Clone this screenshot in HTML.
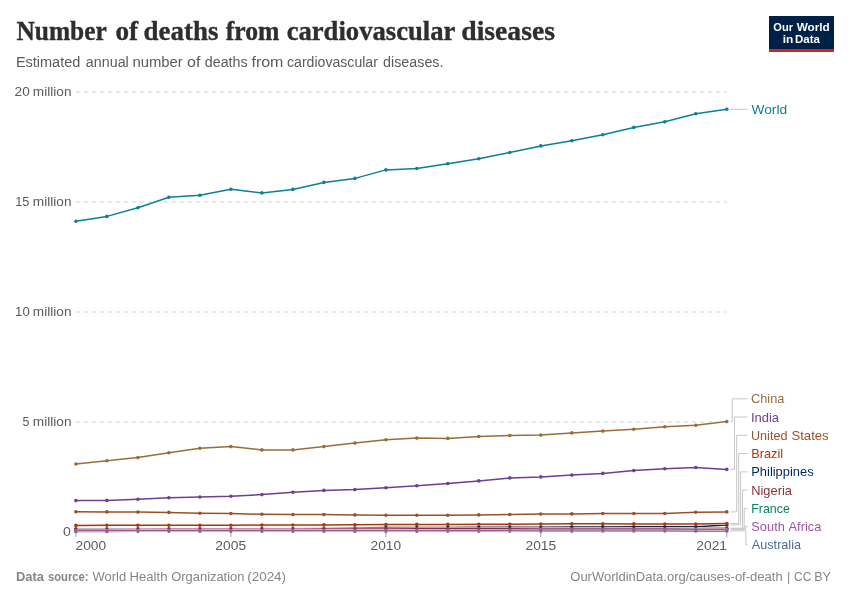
<!DOCTYPE html>
<html lang="en">
<head>
<meta charset="utf-8">
<title>Number of deaths from cardiovascular diseases</title>
<style>
html,body{margin:0;padding:0;background:#fff;}
body{width:850px;height:600px;overflow:hidden;}
svg{display:block;}
text{font-family:"Liberation Sans",sans-serif;}
.title{font-family:"Liberation Serif",serif;font-weight:700;font-size:27px;fill:#2e2e2e;stroke:#2e2e2e;stroke-width:0.35;}
.sub{font-size:14px;fill:#5b5b5b;}
.tick{font-size:13px;fill:#5b5b5b;}
.foot{font-size:13px;fill:#858585;}
.lab{font-size:13px;}
.logo{font-size:11.6px;font-weight:700;fill:#ffffff;}
.grid{stroke:#e0e0e0;stroke-width:1.4;stroke-dasharray:4 4;fill:none;}
.conn{stroke:#c6c6c6;stroke-width:1;fill:none;}
</style>
</head>
<body>
<svg width="850" height="600" viewBox="0 0 850 600">
<rect x="0" y="0" width="850" height="600" fill="#ffffff"/>
<text class="title" y="39.6"><tspan x="16.39" textLength="90.02" lengthAdjust="spacingAndGlyphs">Number</tspan> <tspan x="115.48" textLength="22.66" lengthAdjust="spacingAndGlyphs">of</tspan> <tspan x="143.62" textLength="74.81" lengthAdjust="spacingAndGlyphs">deaths</tspan> <tspan x="225.71" textLength="53.62" lengthAdjust="spacingAndGlyphs">from</tspan> <tspan x="286.67" textLength="168.17" lengthAdjust="spacingAndGlyphs">cardiovascular</tspan> <tspan x="461.29" textLength="93.68" lengthAdjust="spacingAndGlyphs">diseases</tspan></text>
<text class="sub" y="66.5"><tspan x="15.90" textLength="64.42" lengthAdjust="spacingAndGlyphs">Estimated</tspan> <tspan x="85.89" textLength="42.88" lengthAdjust="spacingAndGlyphs">annual</tspan> <tspan x="132.40" textLength="50.34" lengthAdjust="spacingAndGlyphs">number</tspan> <tspan x="187.12" textLength="13.37" lengthAdjust="spacingAndGlyphs">of</tspan> <tspan x="204.79" textLength="42.81" lengthAdjust="spacingAndGlyphs">deaths</tspan> <tspan x="251.46" textLength="31.98" lengthAdjust="spacingAndGlyphs">from</tspan> <tspan x="287.00" textLength="90.91" lengthAdjust="spacingAndGlyphs">cardiovascular</tspan> <tspan x="383.09" textLength="60.39" lengthAdjust="spacingAndGlyphs">diseases.</tspan></text>
<rect x="769" y="16" width="65" height="35.8" fill="#002147"/>
<rect x="769" y="49" width="65" height="2.8" fill="#ce261e"/>
<text class="logo" y="30.7"><tspan x="773.36" textLength="19.61" lengthAdjust="spacingAndGlyphs">Our</tspan> <tspan x="796.77" textLength="33.02" lengthAdjust="spacingAndGlyphs">World</tspan></text>
<text class="logo" y="42.8"><tspan x="782.67" textLength="10.56" lengthAdjust="spacingAndGlyphs">in</tspan> <tspan x="795.02" textLength="24.89" lengthAdjust="spacingAndGlyphs">Data</tspan></text>
<line class="grid" x1="75.9" x2="726.7" y1="92.0" y2="92.0"/>
<text class="tick" y="96.1"><tspan x="14.62" textLength="15.12" lengthAdjust="spacingAndGlyphs">20</tspan> <tspan x="32.88" textLength="38.63" lengthAdjust="spacingAndGlyphs">million</tspan></text>
<line class="grid" x1="75.9" x2="726.7" y1="202.0" y2="202.0"/>
<text class="tick" y="206.1"><tspan x="15.14" textLength="14.20" lengthAdjust="spacingAndGlyphs">15</tspan> <tspan x="32.88" textLength="38.63" lengthAdjust="spacingAndGlyphs">million</tspan></text>
<line class="grid" x1="75.9" x2="726.7" y1="312.0" y2="312.0"/>
<text class="tick" y="316.1"><tspan x="15.12" textLength="14.61" lengthAdjust="spacingAndGlyphs">10</tspan> <tspan x="32.88" textLength="38.63" lengthAdjust="spacingAndGlyphs">million</tspan></text>
<line class="grid" x1="75.9" x2="726.7" y1="422.0" y2="422.0"/>
<text class="tick" y="426.1"><tspan x="22.40" textLength="6.91" lengthAdjust="spacingAndGlyphs">5</tspan> <tspan x="32.88" textLength="38.63" lengthAdjust="spacingAndGlyphs">million</tspan></text>
<text class="tick" y="536.3"><tspan x="62.94" textLength="7.80" lengthAdjust="spacingAndGlyphs">0</tspan></text>
<line x1="75.9" x2="75.9" y1="532" y2="537" stroke="#a0a0a0" stroke-width="1"/>
<text class="tick" y="550.3"><tspan x="75.51" textLength="30.64" lengthAdjust="spacingAndGlyphs">2000</tspan></text>
<line x1="230.9" x2="230.9" y1="532" y2="537" stroke="#a0a0a0" stroke-width="1"/>
<text class="tick" y="550.3"><tspan x="215.31" textLength="30.78" lengthAdjust="spacingAndGlyphs">2005</tspan></text>
<line x1="385.9" x2="385.9" y1="532" y2="537" stroke="#a0a0a0" stroke-width="1"/>
<text class="tick" y="550.3"><tspan x="370.61" textLength="30.53" lengthAdjust="spacingAndGlyphs">2010</tspan></text>
<line x1="540.8" x2="540.8" y1="532" y2="537" stroke="#a0a0a0" stroke-width="1"/>
<text class="tick" y="550.3"><tspan x="525.51" textLength="30.67" lengthAdjust="spacingAndGlyphs">2015</tspan></text>
<line x1="726.8" x2="726.8" y1="532" y2="537" stroke="#a0a0a0" stroke-width="1"/>
<text class="tick" y="550.3"><tspan x="696.31" textLength="30.67" lengthAdjust="spacingAndGlyphs">2021</tspan></text>
<path class="conn" d="M730.6 109.3H747.5"/>
<path class="conn" d="M730.6 421.6H732.2V398.8H747.5"/>
<path class="conn" d="M730.6 469.4H734.5V417.0H747.5"/>
<path class="conn" d="M730.6 511.9H736.7V435.3H747.5"/>
<path class="conn" d="M730.6 523.5H738.7V453.5H747.5"/>
<path class="conn" d="M730.6 524.9H740.6V471.8H747.5"/>
<path class="conn" d="M730.6 528.2H742.5V490.0H747.5"/>
<path class="conn" d="M730.6 528.8H744.2V508.3H747.5"/>
<path class="conn" d="M730.6 529.7H745.6V526.5H747.5"/>
<path class="conn" d="M730.6 530.9H745.9V544.8H747.5"/>
<g fill="#00295B" stroke="none"><path d="M75.9 529.5 L106.9 529.5 L137.9 529.4 L168.9 529.3 L199.9 529.2 L230.9 529.1 L261.9 528.9 L292.9 528.7 L323.9 528.4 L354.9 528.0 L385.9 527.6 L416.8 527.5 L447.8 527.4 L478.8 527.3 L509.8 527.3 L540.8 527.2 L571.8 527.0 L602.8 526.9 L633.8 526.8 L664.8 526.8 L695.8 526.8 L726.8 524.9" fill="none" stroke="#ffffff" stroke-width="2.5" stroke-linejoin="round" stroke-linecap="round"/><path d="M75.9 529.5 L106.9 529.5 L137.9 529.4 L168.9 529.3 L199.9 529.2 L230.9 529.1 L261.9 528.9 L292.9 528.7 L323.9 528.4 L354.9 528.0 L385.9 527.6 L416.8 527.5 L447.8 527.4 L478.8 527.3 L509.8 527.3 L540.8 527.2 L571.8 527.0 L602.8 526.9 L633.8 526.8 L664.8 526.8 L695.8 526.8 L726.8 524.9" fill="none" stroke="#00295B" stroke-width="1.5" stroke-linejoin="round" stroke-linecap="round"/><circle cx="75.9" cy="529.5" r="1.8"/><circle cx="106.9" cy="529.5" r="1.8"/><circle cx="137.9" cy="529.4" r="1.8"/><circle cx="168.9" cy="529.3" r="1.8"/><circle cx="199.9" cy="529.2" r="1.8"/><circle cx="230.9" cy="529.1" r="1.8"/><circle cx="261.9" cy="528.9" r="1.8"/><circle cx="292.9" cy="528.7" r="1.8"/><circle cx="323.9" cy="528.4" r="1.8"/><circle cx="354.9" cy="528.0" r="1.8"/><circle cx="385.9" cy="527.6" r="1.8"/><circle cx="416.8" cy="527.5" r="1.8"/><circle cx="447.8" cy="527.4" r="1.8"/><circle cx="478.8" cy="527.3" r="1.8"/><circle cx="509.8" cy="527.3" r="1.8"/><circle cx="540.8" cy="527.2" r="1.8"/><circle cx="571.8" cy="527.0" r="1.8"/><circle cx="602.8" cy="526.9" r="1.8"/><circle cx="633.8" cy="526.8" r="1.8"/><circle cx="664.8" cy="526.8" r="1.8"/><circle cx="695.8" cy="526.8" r="1.8"/><circle cx="726.8" cy="524.9" r="1.8"/></g>
<g fill="#00875E" stroke="none"><path d="M75.9 528.9 L106.9 528.9 L137.9 528.9 L168.9 528.8 L199.9 528.9 L230.9 528.9 L261.9 528.9 L292.9 528.9 L323.9 528.9 L354.9 528.9 L385.9 528.9 L416.8 528.9 L447.8 528.9 L478.8 528.9 L509.8 528.9 L540.8 528.9 L571.8 528.9 L602.8 528.9 L633.8 528.9 L664.8 528.9 L695.8 528.8 L726.8 528.8" fill="none" stroke="#ffffff" stroke-width="2.5" stroke-linejoin="round" stroke-linecap="round"/><path d="M75.9 528.9 L106.9 528.9 L137.9 528.9 L168.9 528.8 L199.9 528.9 L230.9 528.9 L261.9 528.9 L292.9 528.9 L323.9 528.9 L354.9 528.9 L385.9 528.9 L416.8 528.9 L447.8 528.9 L478.8 528.9 L509.8 528.9 L540.8 528.9 L571.8 528.9 L602.8 528.9 L633.8 528.9 L664.8 528.9 L695.8 528.8 L726.8 528.8" fill="none" stroke="#00875E" stroke-width="1.5" stroke-linejoin="round" stroke-linecap="round"/><circle cx="75.9" cy="528.9" r="1.8"/><circle cx="106.9" cy="528.9" r="1.8"/><circle cx="137.9" cy="528.9" r="1.8"/><circle cx="168.9" cy="528.8" r="1.8"/><circle cx="199.9" cy="528.9" r="1.8"/><circle cx="230.9" cy="528.9" r="1.8"/><circle cx="261.9" cy="528.9" r="1.8"/><circle cx="292.9" cy="528.9" r="1.8"/><circle cx="323.9" cy="528.9" r="1.8"/><circle cx="354.9" cy="528.9" r="1.8"/><circle cx="385.9" cy="528.9" r="1.8"/><circle cx="416.8" cy="528.9" r="1.8"/><circle cx="447.8" cy="528.9" r="1.8"/><circle cx="478.8" cy="528.9" r="1.8"/><circle cx="509.8" cy="528.9" r="1.8"/><circle cx="540.8" cy="528.9" r="1.8"/><circle cx="571.8" cy="528.9" r="1.8"/><circle cx="602.8" cy="528.9" r="1.8"/><circle cx="633.8" cy="528.9" r="1.8"/><circle cx="664.8" cy="528.9" r="1.8"/><circle cx="695.8" cy="528.8" r="1.8"/><circle cx="726.8" cy="528.8" r="1.8"/></g>
<g fill="#4C6A9C" stroke="none"><path d="M75.9 531.4 L106.9 531.4 L137.9 531.3 L168.9 531.3 L199.9 531.3 L230.9 531.3 L261.9 531.3 L292.9 531.3 L323.9 531.2 L354.9 531.2 L385.9 531.2 L416.8 531.2 L447.8 531.2 L478.8 531.2 L509.8 531.1 L540.8 531.1 L571.8 531.1 L602.8 531.0 L633.8 531.0 L664.8 531.0 L695.8 531.0 L726.8 530.9" fill="none" stroke="#ffffff" stroke-width="2.5" stroke-linejoin="round" stroke-linecap="round"/><path d="M75.9 531.4 L106.9 531.4 L137.9 531.3 L168.9 531.3 L199.9 531.3 L230.9 531.3 L261.9 531.3 L292.9 531.3 L323.9 531.2 L354.9 531.2 L385.9 531.2 L416.8 531.2 L447.8 531.2 L478.8 531.2 L509.8 531.1 L540.8 531.1 L571.8 531.1 L602.8 531.0 L633.8 531.0 L664.8 531.0 L695.8 531.0 L726.8 530.9" fill="none" stroke="#4C6A9C" stroke-width="1.5" stroke-linejoin="round" stroke-linecap="round"/><circle cx="75.9" cy="531.4" r="1.8"/><circle cx="106.9" cy="531.4" r="1.8"/><circle cx="137.9" cy="531.3" r="1.8"/><circle cx="168.9" cy="531.3" r="1.8"/><circle cx="199.9" cy="531.3" r="1.8"/><circle cx="230.9" cy="531.3" r="1.8"/><circle cx="261.9" cy="531.3" r="1.8"/><circle cx="292.9" cy="531.3" r="1.8"/><circle cx="323.9" cy="531.2" r="1.8"/><circle cx="354.9" cy="531.2" r="1.8"/><circle cx="385.9" cy="531.2" r="1.8"/><circle cx="416.8" cy="531.2" r="1.8"/><circle cx="447.8" cy="531.2" r="1.8"/><circle cx="478.8" cy="531.2" r="1.8"/><circle cx="509.8" cy="531.1" r="1.8"/><circle cx="540.8" cy="531.1" r="1.8"/><circle cx="571.8" cy="531.1" r="1.8"/><circle cx="602.8" cy="531.0" r="1.8"/><circle cx="633.8" cy="531.0" r="1.8"/><circle cx="664.8" cy="531.0" r="1.8"/><circle cx="695.8" cy="531.0" r="1.8"/><circle cx="726.8" cy="530.9" r="1.8"/></g>
<g fill="#883039" stroke="none"><path d="M75.9 529.4 L106.9 529.4 L137.9 529.4 L168.9 529.3 L199.9 529.3 L230.9 529.3 L261.9 529.2 L292.9 529.2 L323.9 529.1 L354.9 529.0 L385.9 528.9 L416.8 528.8 L447.8 528.8 L478.8 528.7 L509.8 528.6 L540.8 528.5 L571.8 528.5 L602.8 528.5 L633.8 528.5 L664.8 528.5 L695.8 528.5 L726.8 528.2" fill="none" stroke="#ffffff" stroke-width="2.5" stroke-linejoin="round" stroke-linecap="round"/><path d="M75.9 529.4 L106.9 529.4 L137.9 529.4 L168.9 529.3 L199.9 529.3 L230.9 529.3 L261.9 529.2 L292.9 529.2 L323.9 529.1 L354.9 529.0 L385.9 528.9 L416.8 528.8 L447.8 528.8 L478.8 528.7 L509.8 528.6 L540.8 528.5 L571.8 528.5 L602.8 528.5 L633.8 528.5 L664.8 528.5 L695.8 528.5 L726.8 528.2" fill="none" stroke="#883039" stroke-width="1.5" stroke-linejoin="round" stroke-linecap="round"/><circle cx="75.9" cy="529.4" r="1.8"/><circle cx="106.9" cy="529.4" r="1.8"/><circle cx="137.9" cy="529.4" r="1.8"/><circle cx="168.9" cy="529.3" r="1.8"/><circle cx="199.9" cy="529.3" r="1.8"/><circle cx="230.9" cy="529.3" r="1.8"/><circle cx="261.9" cy="529.2" r="1.8"/><circle cx="292.9" cy="529.2" r="1.8"/><circle cx="323.9" cy="529.1" r="1.8"/><circle cx="354.9" cy="529.0" r="1.8"/><circle cx="385.9" cy="528.9" r="1.8"/><circle cx="416.8" cy="528.8" r="1.8"/><circle cx="447.8" cy="528.8" r="1.8"/><circle cx="478.8" cy="528.7" r="1.8"/><circle cx="509.8" cy="528.6" r="1.8"/><circle cx="540.8" cy="528.5" r="1.8"/><circle cx="571.8" cy="528.5" r="1.8"/><circle cx="602.8" cy="528.5" r="1.8"/><circle cx="633.8" cy="528.5" r="1.8"/><circle cx="664.8" cy="528.5" r="1.8"/><circle cx="695.8" cy="528.5" r="1.8"/><circle cx="726.8" cy="528.2" r="1.8"/></g>
<g fill="#A2559C" stroke="none"><path d="M75.9 530.8 L106.9 530.8 L137.9 530.6 L168.9 530.5 L199.9 530.5 L230.9 530.5 L261.9 530.5 L292.9 530.5 L323.9 530.4 L354.9 530.4 L385.9 530.4 L416.8 530.4 L447.8 530.3 L478.8 530.3 L509.8 530.2 L540.8 530.1 L571.8 530.1 L602.8 530.0 L633.8 530.0 L664.8 529.9 L695.8 529.8 L726.8 529.7" fill="none" stroke="#ffffff" stroke-width="2.5" stroke-linejoin="round" stroke-linecap="round"/><path d="M75.9 530.8 L106.9 530.8 L137.9 530.6 L168.9 530.5 L199.9 530.5 L230.9 530.5 L261.9 530.5 L292.9 530.5 L323.9 530.4 L354.9 530.4 L385.9 530.4 L416.8 530.4 L447.8 530.3 L478.8 530.3 L509.8 530.2 L540.8 530.1 L571.8 530.1 L602.8 530.0 L633.8 530.0 L664.8 529.9 L695.8 529.8 L726.8 529.7" fill="none" stroke="#A2559C" stroke-width="1.5" stroke-linejoin="round" stroke-linecap="round"/><circle cx="75.9" cy="530.8" r="1.8"/><circle cx="106.9" cy="530.8" r="1.8"/><circle cx="137.9" cy="530.6" r="1.8"/><circle cx="168.9" cy="530.5" r="1.8"/><circle cx="199.9" cy="530.5" r="1.8"/><circle cx="230.9" cy="530.5" r="1.8"/><circle cx="261.9" cy="530.5" r="1.8"/><circle cx="292.9" cy="530.5" r="1.8"/><circle cx="323.9" cy="530.4" r="1.8"/><circle cx="354.9" cy="530.4" r="1.8"/><circle cx="385.9" cy="530.4" r="1.8"/><circle cx="416.8" cy="530.4" r="1.8"/><circle cx="447.8" cy="530.3" r="1.8"/><circle cx="478.8" cy="530.3" r="1.8"/><circle cx="509.8" cy="530.2" r="1.8"/><circle cx="540.8" cy="530.1" r="1.8"/><circle cx="571.8" cy="530.1" r="1.8"/><circle cx="602.8" cy="530.0" r="1.8"/><circle cx="633.8" cy="530.0" r="1.8"/><circle cx="664.8" cy="529.9" r="1.8"/><circle cx="695.8" cy="529.8" r="1.8"/><circle cx="726.8" cy="529.7" r="1.8"/></g>
<g fill="#B13507" stroke="none"><path d="M75.9 525.4 L106.9 525.3 L137.9 525.2 L168.9 525.2 L199.9 525.2 L230.9 525.2 L261.9 525.1 L292.9 525.0 L323.9 524.9 L354.9 524.7 L385.9 524.5 L416.8 524.4 L447.8 524.4 L478.8 524.3 L509.8 524.3 L540.8 524.1 L571.8 523.8 L602.8 523.8 L633.8 523.9 L664.8 524.1 L695.8 524.1 L726.8 523.5" fill="none" stroke="#ffffff" stroke-width="2.5" stroke-linejoin="round" stroke-linecap="round"/><path d="M75.9 525.4 L106.9 525.3 L137.9 525.2 L168.9 525.2 L199.9 525.2 L230.9 525.2 L261.9 525.1 L292.9 525.0 L323.9 524.9 L354.9 524.7 L385.9 524.5 L416.8 524.4 L447.8 524.4 L478.8 524.3 L509.8 524.3 L540.8 524.1 L571.8 523.8 L602.8 523.8 L633.8 523.9 L664.8 524.1 L695.8 524.1 L726.8 523.5" fill="none" stroke="#B13507" stroke-width="1.5" stroke-linejoin="round" stroke-linecap="round"/><circle cx="75.9" cy="525.4" r="1.8"/><circle cx="106.9" cy="525.3" r="1.8"/><circle cx="137.9" cy="525.2" r="1.8"/><circle cx="168.9" cy="525.2" r="1.8"/><circle cx="199.9" cy="525.2" r="1.8"/><circle cx="230.9" cy="525.2" r="1.8"/><circle cx="261.9" cy="525.1" r="1.8"/><circle cx="292.9" cy="525.0" r="1.8"/><circle cx="323.9" cy="524.9" r="1.8"/><circle cx="354.9" cy="524.7" r="1.8"/><circle cx="385.9" cy="524.5" r="1.8"/><circle cx="416.8" cy="524.4" r="1.8"/><circle cx="447.8" cy="524.4" r="1.8"/><circle cx="478.8" cy="524.3" r="1.8"/><circle cx="509.8" cy="524.3" r="1.8"/><circle cx="540.8" cy="524.1" r="1.8"/><circle cx="571.8" cy="523.8" r="1.8"/><circle cx="602.8" cy="523.8" r="1.8"/><circle cx="633.8" cy="523.9" r="1.8"/><circle cx="664.8" cy="524.1" r="1.8"/><circle cx="695.8" cy="524.1" r="1.8"/><circle cx="726.8" cy="523.5" r="1.8"/></g>
<g fill="#9A5129" stroke="none"><path d="M75.9 511.7 L106.9 511.9 L137.9 512.1 L168.9 512.4 L199.9 513.2 L230.9 513.5 L261.9 514.3 L292.9 514.6 L323.9 514.6 L354.9 514.9 L385.9 515.2 L416.8 515.2 L447.8 515.2 L478.8 514.9 L509.8 514.5 L540.8 514.0 L571.8 513.9 L602.8 513.5 L633.8 513.5 L664.8 513.5 L695.8 512.3 L726.8 511.9" fill="none" stroke="#ffffff" stroke-width="2.5" stroke-linejoin="round" stroke-linecap="round"/><path d="M75.9 511.7 L106.9 511.9 L137.9 512.1 L168.9 512.4 L199.9 513.2 L230.9 513.5 L261.9 514.3 L292.9 514.6 L323.9 514.6 L354.9 514.9 L385.9 515.2 L416.8 515.2 L447.8 515.2 L478.8 514.9 L509.8 514.5 L540.8 514.0 L571.8 513.9 L602.8 513.5 L633.8 513.5 L664.8 513.5 L695.8 512.3 L726.8 511.9" fill="none" stroke="#9A5129" stroke-width="1.5" stroke-linejoin="round" stroke-linecap="round"/><circle cx="75.9" cy="511.7" r="1.8"/><circle cx="106.9" cy="511.9" r="1.8"/><circle cx="137.9" cy="512.1" r="1.8"/><circle cx="168.9" cy="512.4" r="1.8"/><circle cx="199.9" cy="513.2" r="1.8"/><circle cx="230.9" cy="513.5" r="1.8"/><circle cx="261.9" cy="514.3" r="1.8"/><circle cx="292.9" cy="514.6" r="1.8"/><circle cx="323.9" cy="514.6" r="1.8"/><circle cx="354.9" cy="514.9" r="1.8"/><circle cx="385.9" cy="515.2" r="1.8"/><circle cx="416.8" cy="515.2" r="1.8"/><circle cx="447.8" cy="515.2" r="1.8"/><circle cx="478.8" cy="514.9" r="1.8"/><circle cx="509.8" cy="514.5" r="1.8"/><circle cx="540.8" cy="514.0" r="1.8"/><circle cx="571.8" cy="513.9" r="1.8"/><circle cx="602.8" cy="513.5" r="1.8"/><circle cx="633.8" cy="513.5" r="1.8"/><circle cx="664.8" cy="513.5" r="1.8"/><circle cx="695.8" cy="512.3" r="1.8"/><circle cx="726.8" cy="511.9" r="1.8"/></g>
<g fill="#6D3E91" stroke="none"><path d="M75.9 500.6 L106.9 500.4 L137.9 499.2 L168.9 497.8 L199.9 497.0 L230.9 496.2 L261.9 494.6 L292.9 492.2 L323.9 490.4 L354.9 489.6 L385.9 487.8 L416.8 485.8 L447.8 483.5 L478.8 480.9 L509.8 477.9 L540.8 476.9 L571.8 475.1 L602.8 473.4 L633.8 470.6 L664.8 468.7 L695.8 467.5 L726.8 469.4" fill="none" stroke="#ffffff" stroke-width="2.5" stroke-linejoin="round" stroke-linecap="round"/><path d="M75.9 500.6 L106.9 500.4 L137.9 499.2 L168.9 497.8 L199.9 497.0 L230.9 496.2 L261.9 494.6 L292.9 492.2 L323.9 490.4 L354.9 489.6 L385.9 487.8 L416.8 485.8 L447.8 483.5 L478.8 480.9 L509.8 477.9 L540.8 476.9 L571.8 475.1 L602.8 473.4 L633.8 470.6 L664.8 468.7 L695.8 467.5 L726.8 469.4" fill="none" stroke="#6D3E91" stroke-width="1.5" stroke-linejoin="round" stroke-linecap="round"/><circle cx="75.9" cy="500.6" r="1.8"/><circle cx="106.9" cy="500.4" r="1.8"/><circle cx="137.9" cy="499.2" r="1.8"/><circle cx="168.9" cy="497.8" r="1.8"/><circle cx="199.9" cy="497.0" r="1.8"/><circle cx="230.9" cy="496.2" r="1.8"/><circle cx="261.9" cy="494.6" r="1.8"/><circle cx="292.9" cy="492.2" r="1.8"/><circle cx="323.9" cy="490.4" r="1.8"/><circle cx="354.9" cy="489.6" r="1.8"/><circle cx="385.9" cy="487.8" r="1.8"/><circle cx="416.8" cy="485.8" r="1.8"/><circle cx="447.8" cy="483.5" r="1.8"/><circle cx="478.8" cy="480.9" r="1.8"/><circle cx="509.8" cy="477.9" r="1.8"/><circle cx="540.8" cy="476.9" r="1.8"/><circle cx="571.8" cy="475.1" r="1.8"/><circle cx="602.8" cy="473.4" r="1.8"/><circle cx="633.8" cy="470.6" r="1.8"/><circle cx="664.8" cy="468.7" r="1.8"/><circle cx="695.8" cy="467.5" r="1.8"/><circle cx="726.8" cy="469.4" r="1.8"/></g>
<g fill="#996D39" stroke="none"><path d="M75.9 464.0 L106.9 460.7 L137.9 457.6 L168.9 452.7 L199.9 448.2 L230.9 446.6 L261.9 449.9 L292.9 449.9 L323.9 446.6 L354.9 443.1 L385.9 439.8 L416.8 438.1 L447.8 438.4 L478.8 436.5 L509.8 435.5 L540.8 435.1 L571.8 432.9 L602.8 431.1 L633.8 429.2 L664.8 426.8 L695.8 425.2 L726.8 421.6" fill="none" stroke="#ffffff" stroke-width="2.5" stroke-linejoin="round" stroke-linecap="round"/><path d="M75.9 464.0 L106.9 460.7 L137.9 457.6 L168.9 452.7 L199.9 448.2 L230.9 446.6 L261.9 449.9 L292.9 449.9 L323.9 446.6 L354.9 443.1 L385.9 439.8 L416.8 438.1 L447.8 438.4 L478.8 436.5 L509.8 435.5 L540.8 435.1 L571.8 432.9 L602.8 431.1 L633.8 429.2 L664.8 426.8 L695.8 425.2 L726.8 421.6" fill="none" stroke="#996D39" stroke-width="1.5" stroke-linejoin="round" stroke-linecap="round"/><circle cx="75.9" cy="464.0" r="1.8"/><circle cx="106.9" cy="460.7" r="1.8"/><circle cx="137.9" cy="457.6" r="1.8"/><circle cx="168.9" cy="452.7" r="1.8"/><circle cx="199.9" cy="448.2" r="1.8"/><circle cx="230.9" cy="446.6" r="1.8"/><circle cx="261.9" cy="449.9" r="1.8"/><circle cx="292.9" cy="449.9" r="1.8"/><circle cx="323.9" cy="446.6" r="1.8"/><circle cx="354.9" cy="443.1" r="1.8"/><circle cx="385.9" cy="439.8" r="1.8"/><circle cx="416.8" cy="438.1" r="1.8"/><circle cx="447.8" cy="438.4" r="1.8"/><circle cx="478.8" cy="436.5" r="1.8"/><circle cx="509.8" cy="435.5" r="1.8"/><circle cx="540.8" cy="435.1" r="1.8"/><circle cx="571.8" cy="432.9" r="1.8"/><circle cx="602.8" cy="431.1" r="1.8"/><circle cx="633.8" cy="429.2" r="1.8"/><circle cx="664.8" cy="426.8" r="1.8"/><circle cx="695.8" cy="425.2" r="1.8"/><circle cx="726.8" cy="421.6" r="1.8"/></g>
<g fill="#0A8094" stroke="none"><path d="M75.9 221.3 L106.9 216.4 L137.9 207.7 L168.9 197.3 L199.9 195.2 L230.9 189.3 L261.9 192.9 L292.9 189.4 L323.9 182.4 L354.9 178.4 L385.9 169.9 L416.8 168.5 L447.8 163.8 L478.8 158.8 L509.8 152.5 L540.8 145.9 L571.8 140.8 L602.8 134.7 L633.8 127.4 L664.8 121.8 L695.8 113.8 L726.8 109.3" fill="none" stroke="#ffffff" stroke-width="2.5" stroke-linejoin="round" stroke-linecap="round"/><path d="M75.9 221.3 L106.9 216.4 L137.9 207.7 L168.9 197.3 L199.9 195.2 L230.9 189.3 L261.9 192.9 L292.9 189.4 L323.9 182.4 L354.9 178.4 L385.9 169.9 L416.8 168.5 L447.8 163.8 L478.8 158.8 L509.8 152.5 L540.8 145.9 L571.8 140.8 L602.8 134.7 L633.8 127.4 L664.8 121.8 L695.8 113.8 L726.8 109.3" fill="none" stroke="#0A8094" stroke-width="1.5" stroke-linejoin="round" stroke-linecap="round"/><circle cx="75.9" cy="221.3" r="1.8"/><circle cx="106.9" cy="216.4" r="1.8"/><circle cx="137.9" cy="207.7" r="1.8"/><circle cx="168.9" cy="197.3" r="1.8"/><circle cx="199.9" cy="195.2" r="1.8"/><circle cx="230.9" cy="189.3" r="1.8"/><circle cx="261.9" cy="192.9" r="1.8"/><circle cx="292.9" cy="189.4" r="1.8"/><circle cx="323.9" cy="182.4" r="1.8"/><circle cx="354.9" cy="178.4" r="1.8"/><circle cx="385.9" cy="169.9" r="1.8"/><circle cx="416.8" cy="168.5" r="1.8"/><circle cx="447.8" cy="163.8" r="1.8"/><circle cx="478.8" cy="158.8" r="1.8"/><circle cx="509.8" cy="152.5" r="1.8"/><circle cx="540.8" cy="145.9" r="1.8"/><circle cx="571.8" cy="140.8" r="1.8"/><circle cx="602.8" cy="134.7" r="1.8"/><circle cx="633.8" cy="127.4" r="1.8"/><circle cx="664.8" cy="121.8" r="1.8"/><circle cx="695.8" cy="113.8" r="1.8"/><circle cx="726.8" cy="109.3" r="1.8"/></g>
<text class="lab" y="113.85" fill="#0A8094"><tspan x="751.53" textLength="35.54" lengthAdjust="spacingAndGlyphs">World</tspan></text>
<text class="lab" y="403.35" fill="#996D39"><tspan x="751.06" textLength="33.24" lengthAdjust="spacingAndGlyphs">China</tspan></text>
<text class="lab" y="421.55" fill="#6D3E91"><tspan x="750.90" textLength="28.11" lengthAdjust="spacingAndGlyphs">India</tspan></text>
<text class="lab" y="439.85" fill="#9A5129"><tspan x="751.02" textLength="36.37" lengthAdjust="spacingAndGlyphs">United</tspan> <tspan x="791.41" textLength="37.25" lengthAdjust="spacingAndGlyphs">States</tspan></text>
<text class="lab" y="458.05" fill="#B13507"><tspan x="751.25" textLength="31.82" lengthAdjust="spacingAndGlyphs">Brazil</tspan></text>
<text class="lab" y="476.35" fill="#00295B"><tspan x="751.24" textLength="62.40" lengthAdjust="spacingAndGlyphs">Philippines</tspan></text>
<text class="lab" y="494.55" fill="#883039"><tspan x="751.24" textLength="40.67" lengthAdjust="spacingAndGlyphs">Nigeria</tspan></text>
<text class="lab" y="512.85" fill="#00875E"><tspan x="751.28" textLength="38.58" lengthAdjust="spacingAndGlyphs">France</tspan></text>
<text class="lab" y="531.05" fill="#A2559C"><tspan x="751.32" textLength="33.52" lengthAdjust="spacingAndGlyphs">South</tspan> <tspan x="788.57" textLength="32.75" lengthAdjust="spacingAndGlyphs">Africa</tspan></text>
<text class="lab" y="549.35" fill="#4C6A9C"><tspan x="751.87" textLength="49.14" lengthAdjust="spacingAndGlyphs">Australia</tspan></text>
<text class="foot" y="581.3"><tspan x="16.03" textLength="27.97" lengthAdjust="spacingAndGlyphs" font-weight="700">Data</tspan> <tspan x="48.01" textLength="40.56" lengthAdjust="spacingAndGlyphs" font-weight="700">source:</tspan> <tspan x="92.44" textLength="33.69" lengthAdjust="spacingAndGlyphs">World</tspan> <tspan x="129.52" textLength="37.95" lengthAdjust="spacingAndGlyphs">Health</tspan> <tspan x="171.29" textLength="73.15" lengthAdjust="spacingAndGlyphs">Organization</tspan> <tspan x="247.26" textLength="38.79" lengthAdjust="spacingAndGlyphs">(2024)</tspan></text>
<text class="foot" y="581.3"><tspan x="570.28" textLength="212.37" lengthAdjust="spacingAndGlyphs">OurWorldinData.org/causes-of-death</tspan> <tspan x="787.08" textLength="3.25" lengthAdjust="spacingAndGlyphs">|</tspan> <tspan x="794.11" textLength="17.16" lengthAdjust="spacingAndGlyphs">CC</tspan> <tspan x="814.17" textLength="16.70" lengthAdjust="spacingAndGlyphs">BY</tspan></text>
</svg>
</body>
</html>
